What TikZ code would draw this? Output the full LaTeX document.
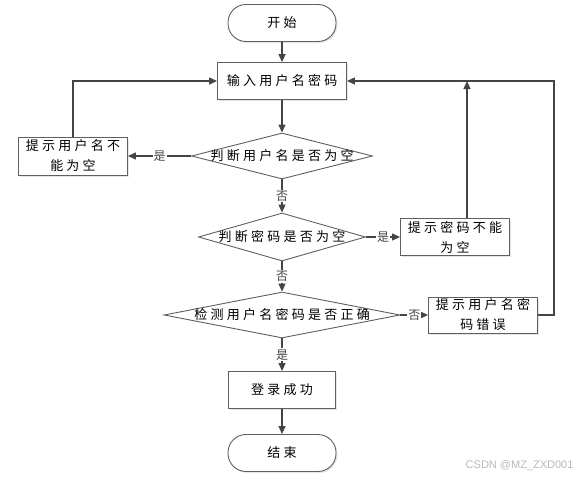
\documentclass[tikz,border=0pt]{standalone}
\usepackage{fontspec}
\newfontfamily\cjk[LetterSpace=25]{Noto Sans CJK SC}
\newfontfamily\wmfont{Liberation Sans}
\usetikzlibrary{shapes.geometric,arrows.meta,shadows}
\definecolor{frame}{RGB}{95,95,95}
\definecolor{flow}{RGB}{68,68,68}
\definecolor{wmgray}{RGB}{185,185,185}
\begin{document}
\begin{tikzpicture}[x=1pt,y=-1pt,
 every node/.style={font=\cjk\fontsize{13}{20}\selectfont},
 box/.style={draw=frame,line width=.9pt,fill=white,align=center,inner sep=0pt,
  minimum height=37pt,drop shadow={shadow xshift=1.5pt,shadow yshift=-1.5pt,opacity=.2}},
 term/.style={box,rounded corners=18pt},
 dec/.style={diamond,draw=frame,line width=.9pt,fill=white,inner sep=0pt,minimum height=46pt},
 arrow/.style={flow,line width=1.2pt,-{Triangle[length=8pt,width=7pt]}},
 lab/.style={fill=white,inner sep=1pt,font=\cjk\fontsize{12}{12}\selectfont}]
\useasboundingbox (0,0) rectangle (580,477);
 \node[term,minimum width=108pt] (start) at (282,23) {开始};
 \node[box,minimum width=129pt] (inp) at (282,81) {输入用户名密码};
 \node[dec,minimum width=181pt,label=center:{判断用户名是否为空}] (d1) at (282,156) {};
 \node[box,minimum width=109pt,minimum height=38pt] (b1) at (73,156) {提示用户名不\\能为空};
 \node[dec,minimum width=167pt,minimum height=48pt,label=center:{判断密码是否为空}] (d2) at (282,237) {};
 \node[box,minimum width=109pt] (b2) at (455,237) {提示密码不能\\为空};
 \node[dec,minimum width=236pt,label=center:{检测用户名密码是否正确}] (d3) at (282,315) {};
 \node[box,minimum width=109pt,minimum height=36pt] (b3) at (483,315) {提示用户名密\\码错误};
 \node[box,minimum width=107pt] (ok) at (282,390) {登录成功};
 \node[term,minimum width=108pt] (end) at (282,453) {结束};
 \foreach \a/\b in {start/inp,inp/d1,ok/end}
  \draw[arrow] (\a) -- (\b);
 \foreach \a/\b/\t in {d1/d2/否,d2/d3/否,d3/ok/是}
  \draw[arrow] (\a.south) -- node[lab]{\t} (\b.north);
 \draw[arrow] (d1.west) -- node[lab]{是} (b1.east);
 \draw[arrow] (d2.east) -- node[lab]{是} (b2.west);
 \draw[arrow] (d3.east) -- node[lab]{否} (b3.west);
 \draw[arrow] (b1.north) |- (inp.west);
 \coordinate (b2up) at ([xshift=12pt]b2.north);
 \draw[arrow] (b2up) -- (b2up |- inp.east);
 \draw[arrow] (b3.east) -- ++(16,0) |- (inp.east);
 \node[font=\wmfont\fontsize{11}{11}\selectfont,text=wmgray,anchor=east] (wm)
  at (577,466) {CSDN @MZ\_ZXD001};
\end{tikzpicture}
\end{document}
